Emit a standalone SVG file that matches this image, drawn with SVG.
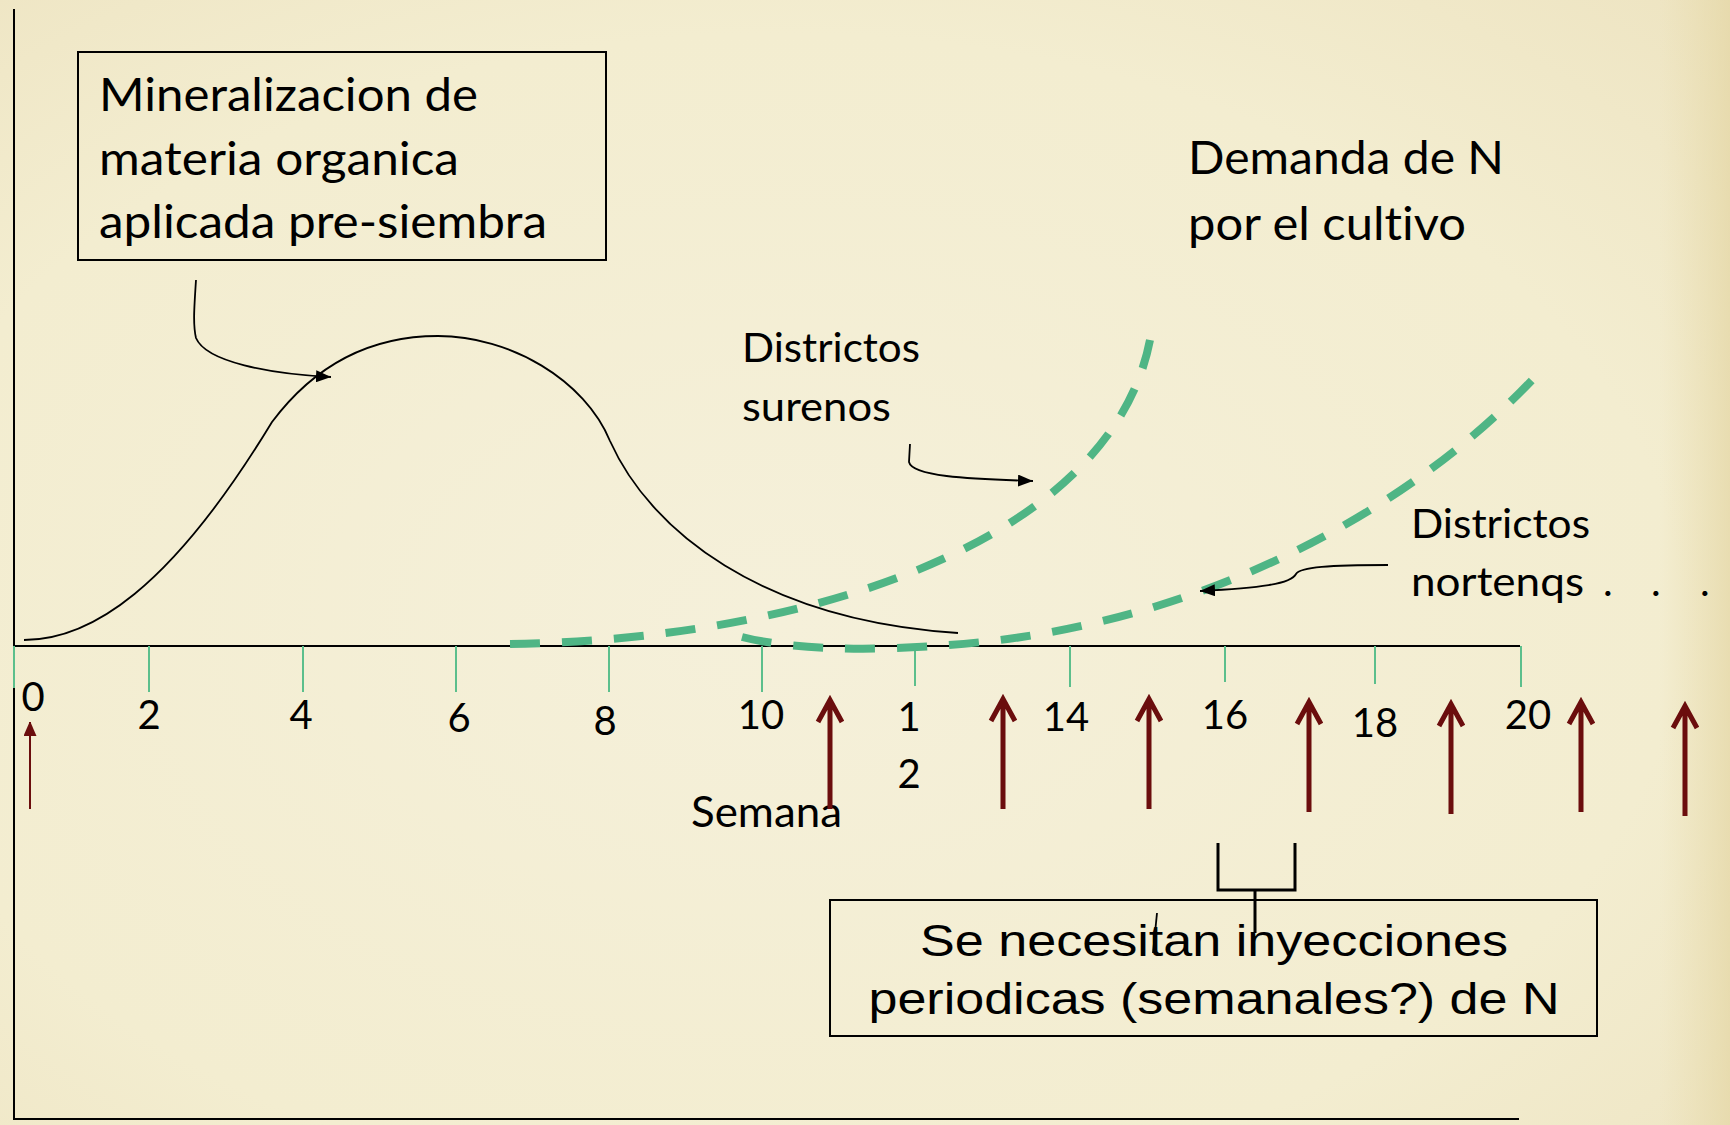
<svg xmlns="http://www.w3.org/2000/svg" width="1730" height="1125" viewBox="0 0 1730 1125">
  <defs>
    <radialGradient id="paper" cx="0.45" cy="0.55" r="0.8">
      <stop offset="0" stop-color="#f5f0da"/>
      <stop offset="0.65" stop-color="#f3edd0"/>
      <stop offset="1" stop-color="#ede3c0"/>
    </radialGradient>
    <linearGradient id="rightEdge" x1="0" y1="0" x2="1" y2="0">
      <stop offset="0" stop-color="#e8dbab" stop-opacity="0"/>
      <stop offset="1" stop-color="#e4d6a4" stop-opacity="0.7"/>
    </linearGradient>
    <marker id="blackHead" markerUnits="userSpaceOnUse" markerWidth="16" markerHeight="12" refX="15" refY="6" orient="auto">
      <path d="M0,0 L15,6 L0,12 z" fill="#000"/>
    </marker>
    <marker id="smallRed" markerUnits="userSpaceOnUse" markerWidth="14" markerHeight="16" refX="14" refY="6.5" orient="auto">
      <path d="M0,0 L15,6.5 L0,13 z" fill="#6b0d0d"/>
    </marker>
  </defs>
  <style>
    text { font-variant-ligatures: none; font-feature-settings: "liga" 0, "clig" 0, "dlig" 0; }
    .txt { font-family: Lato, "Open Sans", "Liberation Sans", sans-serif; fill: #000; }
    .lbl { font-family: Lato, "Open Sans", "Liberation Sans", sans-serif; font-size: 40px; fill: #000; text-anchor: middle; }
    .gothic { font-family: "Liberation Sans", "DejaVu Sans", sans-serif; font-size: 44px; fill: #000; text-anchor: middle; }
    .axis { stroke: #000; stroke-width: 2; fill: none; }
    .tick { stroke: #5cbf8c; stroke-width: 2; }
    .thin { stroke: #000; stroke-width: 1.8; fill: none; }
    .demand { stroke: #4fb585; stroke-width: 8; fill: none; stroke-dasharray: 30 22; }
    .inj { stroke: #6b0d0d; stroke-width: 5; fill: none; stroke-linejoin: miter; }
    .box { stroke: #000; stroke-width: 2; fill: none; }
  </style>

  <rect x="0" y="0" width="1730" height="1125" fill="url(#paper)"/>
  <rect x="1660" y="0" width="70" height="1125" fill="url(#rightEdge)"/>

  <g id="axes">
    <line class="axis" x1="14" y1="9" x2="14" y2="1120"/>
    <line class="axis" x1="14" y1="1119" x2="1519" y2="1119" stroke-width="2.5"/>
    <line class="axis" x1="14" y1="646" x2="1520" y2="646"/>
    <line class="tick" x1="14" y1="646" x2="14" y2="688"/>
    <line class="tick" x1="149" y1="646" x2="149" y2="692"/>
    <line class="tick" x1="303" y1="646" x2="303" y2="692"/>
    <line class="tick" x1="456" y1="646" x2="456" y2="692"/>
    <line class="tick" x1="609" y1="646" x2="609" y2="692"/>
    <line class="tick" x1="762" y1="646" x2="762" y2="692"/>
    <line class="tick" x1="915" y1="646" x2="915" y2="686"/>
    <line class="tick" x1="1070" y1="646" x2="1070" y2="687"/>
    <line class="tick" x1="1225" y1="646" x2="1225" y2="682"/>
    <line class="tick" x1="1375" y1="646" x2="1375" y2="684"/>
    <line class="tick" x1="1521" y1="646" x2="1521" y2="687"/>
    <text class="lbl" x="33" y="711">0</text>
    <text class="lbl" x="149" y="729">2</text>
    <text class="lbl" x="301" y="729">4</text>
    <text class="lbl" x="459" y="732">6</text>
    <text class="lbl" x="605" y="735">8</text>
    <text class="lbl" x="761" y="729">10</text>
    <text class="lbl" x="909" y="731">1</text>
    <text class="lbl" x="909" y="788">2</text>
    <text class="lbl" x="1066" y="731">14</text>
    <text class="lbl" x="1225" y="729">16</text>
    <text class="lbl" x="1375" y="737">18</text>
    <text class="lbl" x="1528" y="729">20</text>
    <text class="txt" x="691" y="827" font-size="42" textLength="151" lengthAdjust="spacingAndGlyphs">Semana</text>
  </g>

  <g id="mineralizacion-curve">
    <path class="thin" d="M24 640 C90 640 170 590 272 422 C320 358 380 336 438 336 C510 336 585 380 610 441 C650 530 760 620 958 633"/>
  </g>

  <g id="demanda-curves">
    <path id="surenos-curve" class="demand" d="M510 644 C800 640 1110 545 1150 340"/>
    <path id="nortenos-curve" class="demand" d="M742 637 C800 652 900 652 1000 640 C1200 615 1400 520 1534 378"/>
  </g>

  <g id="box-mineralizacion">
    <rect class="box" x="78" y="52" width="528" height="208"/>
    <text class="txt" font-size="46" x="99" y="111" textLength="379" lengthAdjust="spacingAndGlyphs">Mineralizacion de</text>
    <text class="txt" font-size="46" x="99" y="175" textLength="360" lengthAdjust="spacingAndGlyphs">materia organica</text>
    <text class="txt" font-size="46" x="99" y="238" textLength="448" lengthAdjust="spacingAndGlyphs">aplicada pre-siembra</text>
  </g>

  <g id="label-demanda">
    <text class="txt" font-size="47" x="1188" y="174" textLength="316" lengthAdjust="spacingAndGlyphs">Demanda de N</text>
    <text class="txt" font-size="47" x="1188" y="240" textLength="278" lengthAdjust="spacingAndGlyphs">por el cultivo</text>
  </g>

  <g id="label-surenos">
    <text class="txt" font-size="41" x="742" y="362" textLength="178" lengthAdjust="spacingAndGlyphs">Districtos</text>
    <text class="txt" font-size="41" x="742" y="421" textLength="149" lengthAdjust="spacingAndGlyphs">surenos</text>
  </g>

  <g id="label-nortenos">
    <text class="txt" font-size="41" x="1411" y="538" textLength="179" lengthAdjust="spacingAndGlyphs">Districtos</text>
    <text class="txt" font-size="41" x="1411" y="596"><tspan textLength="173" lengthAdjust="spacingAndGlyphs">nortenqs</tspan><tspan x="1603">.</tspan><tspan x="1651">.</tspan><tspan x="1700">.</tspan></text>
  </g>

  <g id="box-inyecciones">
    <rect class="box" x="830" y="900" width="767" height="136"/>
    <text class="gothic" x="1214" y="956" textLength="588" lengthAdjust="spacingAndGlyphs">Se necesitan inyecciones</text>
    <text class="gothic" x="1214" y="1014" textLength="691" lengthAdjust="spacingAndGlyphs">periodicas (semanales?) de N</text>
  </g>

  <g id="connectors">
    <path class="thin" d="M196 280 C194 310 193 325 196 338 C206 362 270 374 331 377" marker-end="url(#blackHead)"/>
    <path class="thin" d="M910 444 L909 462 C912 476 965 479 1033 481" marker-end="url(#blackHead)"/>
    <path class="thin" d="M1388 565 C1330 565 1300 567 1296 574 C1291 584 1260 588 1200 591" marker-end="url(#blackHead)"/>
    <line x1="30" y1="809" x2="30" y2="722" stroke="#6b0d0d" stroke-width="2" marker-end="url(#smallRed)"/>
    <path class="inj" d="M830 809 V700 M818 722 L830 700 L842 722"/>
    <path class="inj" d="M1003 809 V700 M991 721 L1003 699 L1015 721"/>
    <path class="inj" d="M1149 809 V700 M1137 721 L1149 699 L1161 721"/>
    <path class="inj" d="M1309 812 V703 M1297 724 L1309 702 L1321 724"/>
    <path class="inj" d="M1451 814 V705 M1439 726 L1451 704 L1463 726"/>
    <path class="inj" d="M1581 812 V703 M1569 724 L1581 702 L1593 724"/>
    <path class="inj" d="M1685 816 V707 M1673 728 L1685 706 L1697 728"/>
    <path d="M1218 843 V890 H1295 V843" stroke="#000" stroke-width="3" fill="none"/>
    <line x1="1255" y1="890" x2="1255" y2="933" stroke="#000" stroke-width="3"/>
    <line x1="1157" y1="913" x2="1153" y2="953" stroke="#000" stroke-width="1.8"/>
  </g>
</svg>
